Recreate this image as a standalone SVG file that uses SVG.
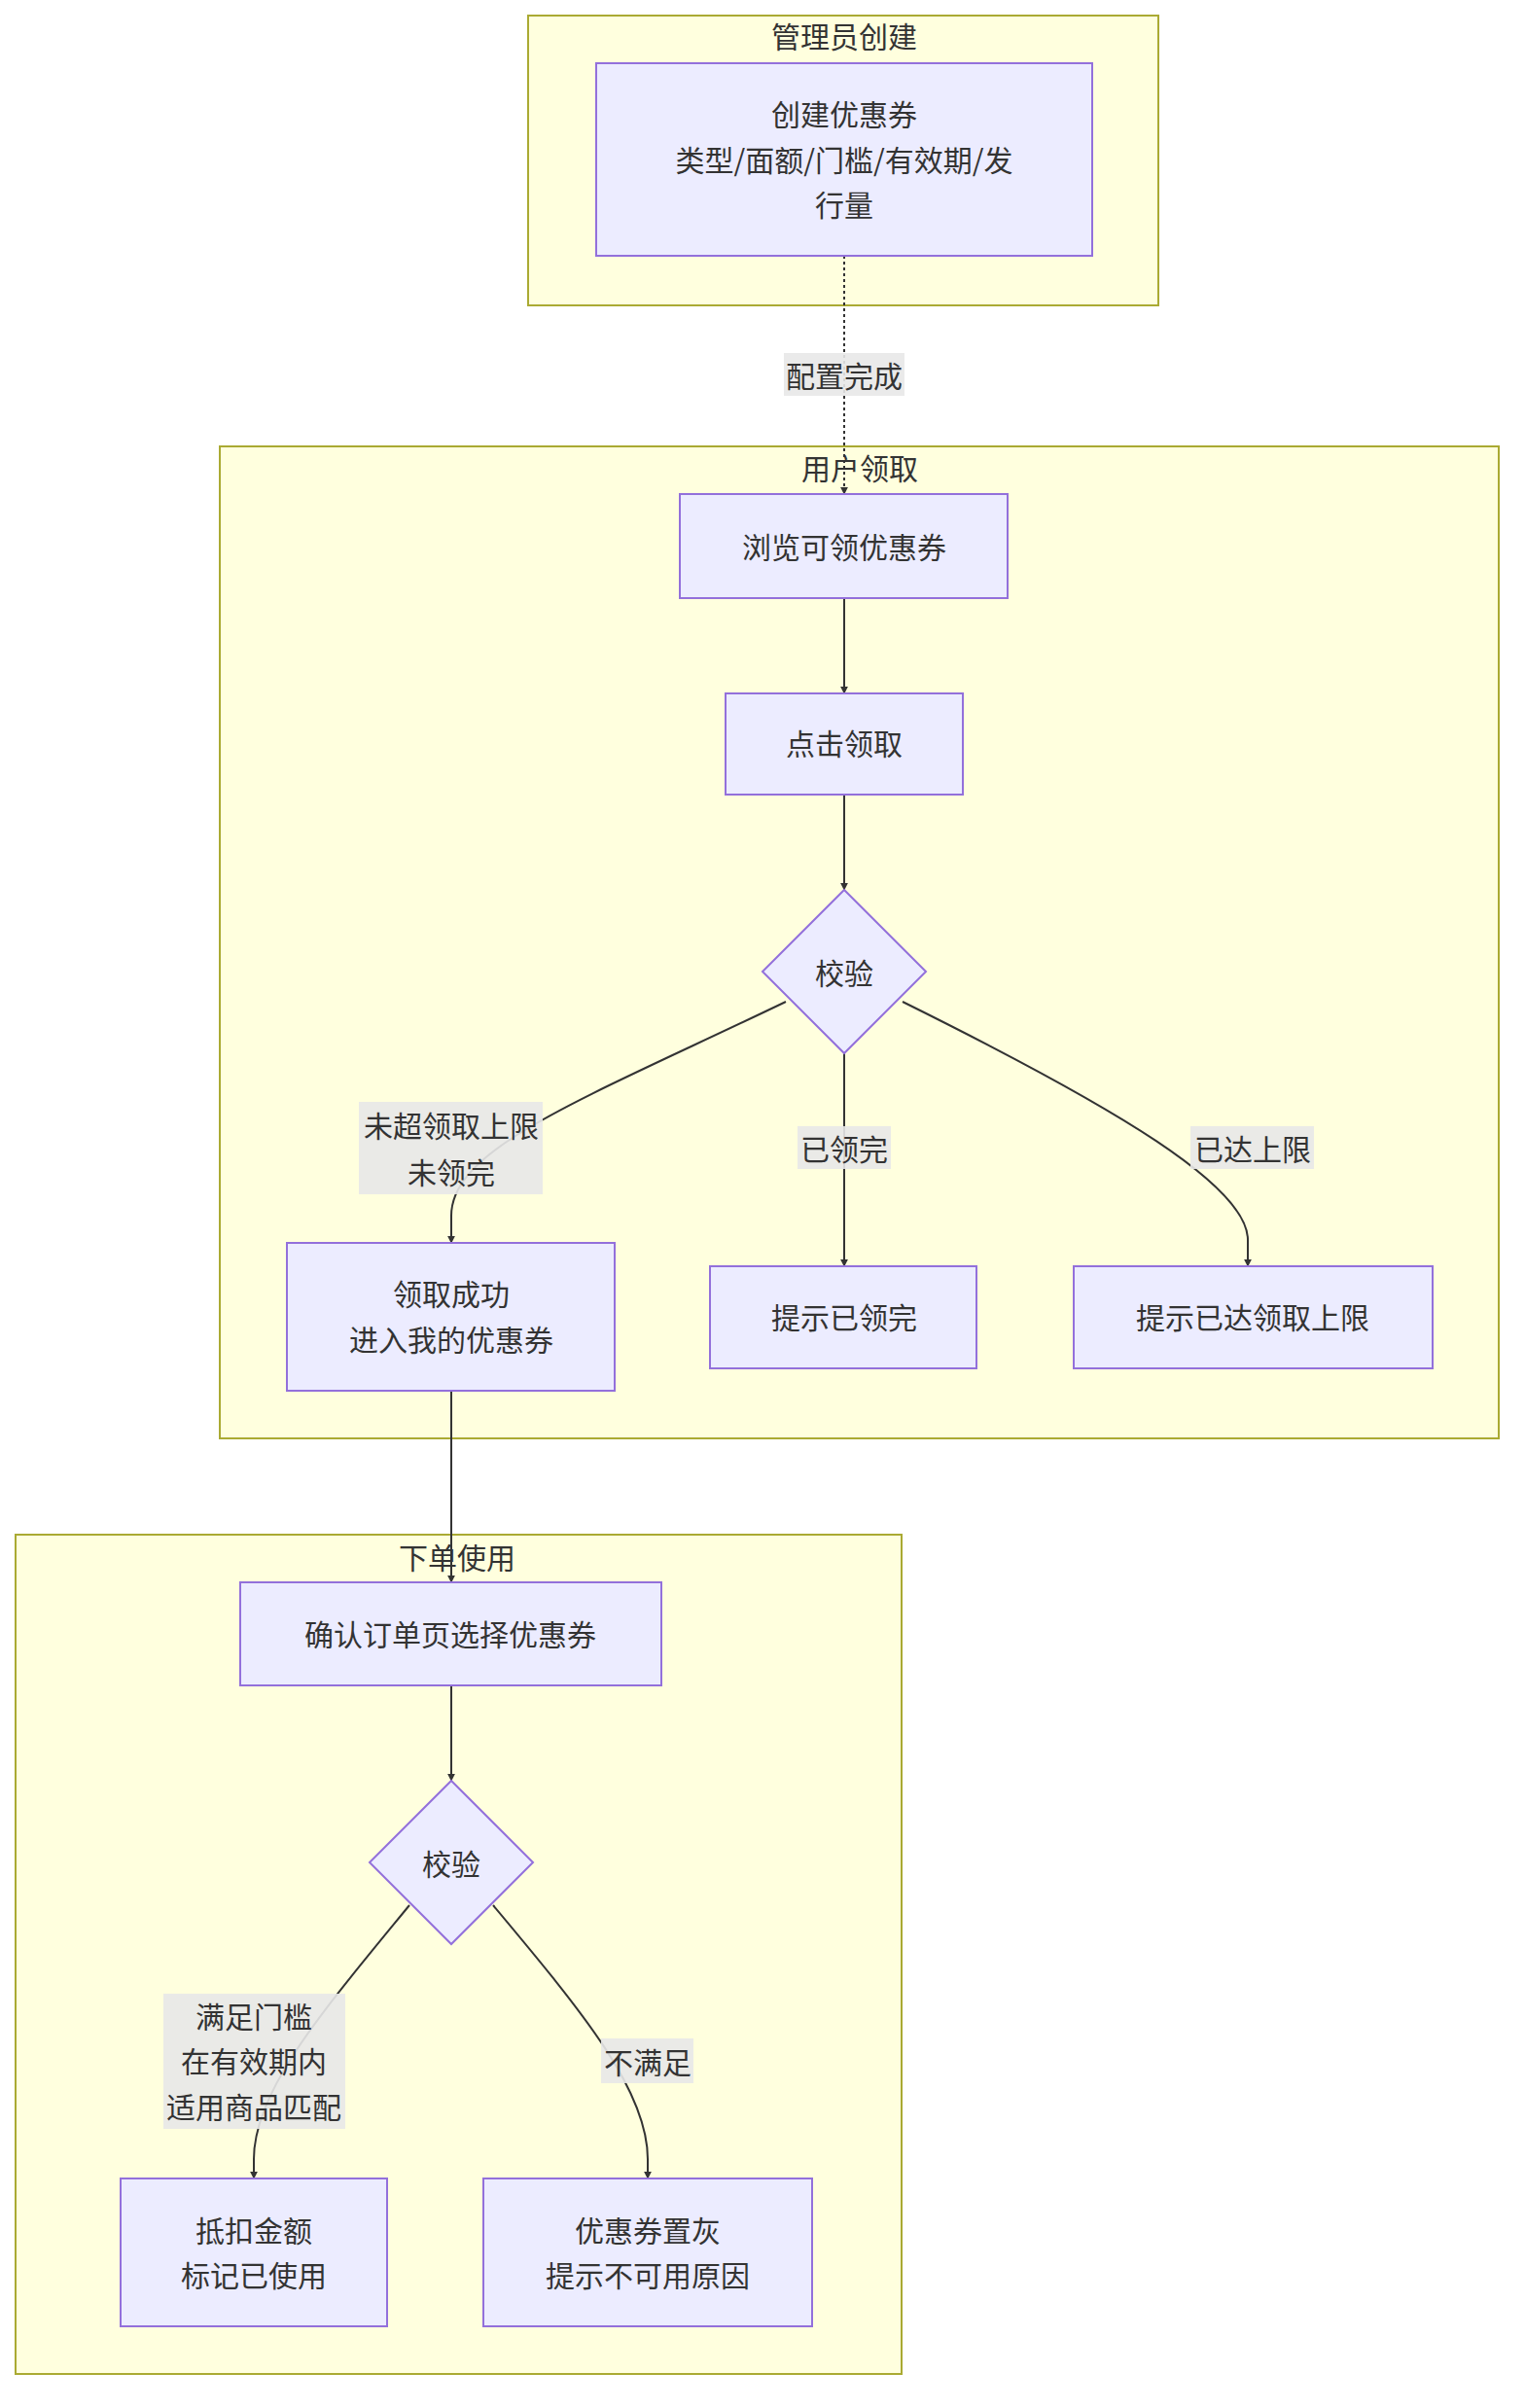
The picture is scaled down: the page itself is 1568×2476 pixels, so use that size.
<svg xmlns="http://www.w3.org/2000/svg" width="1568" height="2476" viewBox="0 0 1568 2476">
<style>
text{font-family:"Noto Sans CJK SC","Liberation Sans",sans-serif;font-size:30px;fill:#333;text-anchor:middle;dominant-baseline:central}
.cl{fill:#ffffde;stroke:#aaaa33;stroke-width:2}
.n{fill:#ececff;stroke:#9370db;stroke-width:2}
.e{fill:none;stroke:#333;stroke-width:2;marker-end:url(#ah)}
.lb{fill:#e8e8e8;opacity:0.9}
</style>
<defs><marker id="ah" viewBox="0 0 10 10" refX="9" refY="5" markerWidth="8" markerHeight="8" markerUnits="userSpaceOnUse" orient="auto"><path d="M0,0L10,5L0,10z" fill="#333"/></marker></defs>
<rect width="1568" height="2476" fill="#fff"/>
<g id="cluster-admin"><rect class="cl" x="543" y="16" width="648" height="298"/><text x="868" y="36">管理员创建</text></g>
<g id="cluster-user"><rect class="cl" x="226" y="459" width="1315" height="1020"/><text x="884" y="480">用户领取</text></g>
<g id="cluster-order"><rect class="cl" x="16" y="1578" width="911" height="863"/><text x="470" y="1600">下单使用</text></g>
<g id="connectors">
<path class="e" d="M868,263L868,508" stroke-dasharray="3,3"/>
<path class="e" d="M868,615L868,713"/>
<path class="e" d="M868,817L868,915"/>
<path class="e" d="M808,1030C600,1130 464,1180 464,1250L464,1278"/>
<path class="e" d="M868,1083L868,1302"/>
<path class="e" d="M928,1030C1150,1140 1283,1220 1283,1275L1283,1302"/>
<path class="e" d="M464,1430L464,1627"/>
<path class="e" d="M464,1733L464,1831"/>
<path class="e" d="M421,1959C330,2070 261,2150 261,2220L261,2240"/>
<path class="e" d="M507,1959C600,2070 666,2150 666,2220L666,2240"/>
<rect class="lb" x="806" y="363" width="124" height="44"/><text x="868" y="385">配置完成</text>
<rect class="lb" x="369" y="1133" width="189" height="95"/><text x="464" y="1156">未超领取上限</text><text x="464" y="1204">未领完</text>
<rect class="lb" x="820" y="1158" width="96" height="44"/><text x="868" y="1180">已领完</text>
<rect class="lb" x="1224" y="1158" width="127" height="44"/><text x="1288" y="1180">已达上限</text>
<rect class="lb" x="168" y="2050" width="187" height="139"/><text x="261" y="2072">满足门槛</text><text x="261" y="2118">在有效期内</text><text x="261" y="2165">适用商品匹配</text>
<rect class="lb" x="618" y="2096" width="95" height="46"/><text x="666" y="2119">不满足</text>
</g>
<g id="A"><rect class="n" x="613" y="65" width="510" height="198"/><text x="868" y="116">创建优惠券</text><text x="868" y="163">类型/面额/门槛/有效期/发</text><text x="868" y="209">行量</text></g>
<g id="B"><rect class="n" x="699" y="508" width="337" height="107"/><text x="868" y="561">浏览可领优惠券</text></g>
<g id="C"><rect class="n" x="746" y="713" width="244" height="104"/><text x="868" y="763">点击领取</text></g>
<g id="D"><path class="n" d="M868,915L952,999L868,1083L784,999z"/><text x="868" y="999">校验</text></g>
<g id="E"><rect class="n" x="295" y="1278" width="337" height="152"/><text x="464" y="1329">领取成功</text><text x="464" y="1376">进入我的优惠券</text></g>
<g id="F"><rect class="n" x="730" y="1302" width="274" height="105"/><text x="868" y="1353">提示已领完</text></g>
<g id="G"><rect class="n" x="1104" y="1302" width="369" height="105"/><text x="1288" y="1353">提示已达领取上限</text></g>
<g id="H"><rect class="n" x="247" y="1627" width="433" height="106"/><text x="463" y="1679">确认订单页选择优惠券</text></g>
<g id="I"><path class="n" d="M464,1831L548,1915L464,1999L380,1915z"/><text x="464" y="1915">校验</text></g>
<g id="J"><rect class="n" x="124" y="2240" width="274" height="152"/><text x="261" y="2292">抵扣金额</text><text x="261" y="2338">标记已使用</text></g>
<g id="K"><rect class="n" x="497" y="2240" width="338" height="152"/><text x="666" y="2292">优惠券置灰</text><text x="666" y="2338">提示不可用原因</text></g>
</svg>
